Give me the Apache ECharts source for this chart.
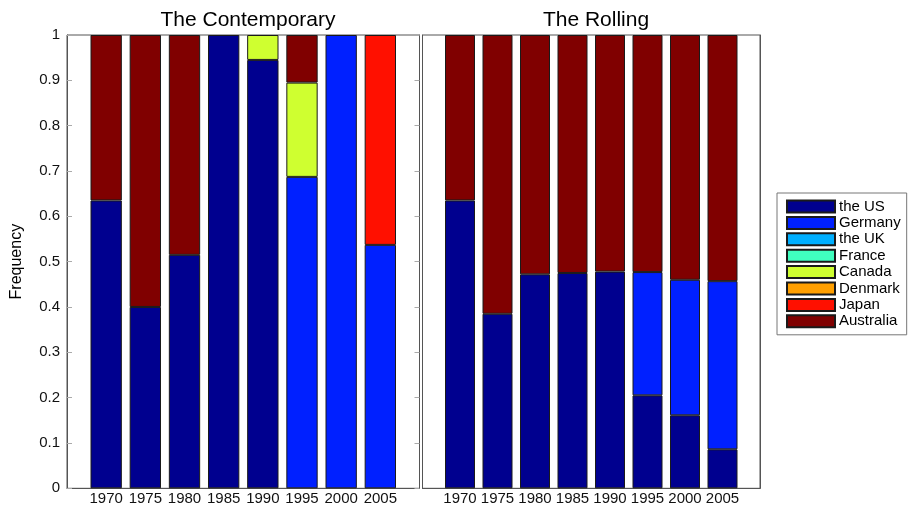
<!DOCTYPE html>
<html>
<head>
<meta charset="utf-8">
<script src="https://cdn.jsdelivr.net/npm/echarts@6/dist/echarts.min.js"></script>
<style>
html,body{margin:0;padding:0;background:#fff;}
#c{width:914px;height:509px;}
</style>
</head>
<body>
<div id="c"></div>
<script>
var years = ['1970', '1975', '1980', '1985', '1990', '1995', '2000', '2005'];
var countries = ['the US', 'Germany', 'the UK', 'France', 'Canada', 'Denmark', 'Japan', 'Australia'];
var panelTitles = ['The Contemporary', 'The Rolling'];

// The Contemporary
var usC        = [0.635, 0.400, 0.515, 1.000, 0.945, 0.000, 0.000, 0.000];
var germanyC   = [0.000, 0.000, 0.000, 0.000, 0.000, 0.687, 1.000, 0.537];
var ukC        = [0, 0, 0, 0, 0, 0, 0, 0];
var franceC    = [0, 0, 0, 0, 0, 0, 0, 0];
var canadaC    = [0.000, 0.000, 0.000, 0.000, 0.055, 0.208, 0.000, 0.000];
var denmarkC   = [0, 0, 0, 0, 0, 0, 0, 0];
var japanC     = [0.000, 0.000, 0.000, 0.000, 0.000, 0.000, 0.000, 0.463];
var australiaC = [0.365, 0.600, 0.485, 0.000, 0.000, 0.105, 0.000, 0.000];

// The Rolling
var usR        = [0.635, 0.385, 0.472, 0.475, 0.478, 0.205, 0.161, 0.086];
var germanyR   = [0.000, 0.000, 0.000, 0.000, 0.000, 0.272, 0.299, 0.371];
var ukR        = [0, 0, 0, 0, 0, 0, 0, 0];
var franceR    = [0, 0, 0, 0, 0, 0, 0, 0];
var canadaR    = [0, 0, 0, 0, 0, 0, 0, 0];
var denmarkR   = [0, 0, 0, 0, 0, 0, 0, 0];
var japanR     = [0, 0, 0, 0, 0, 0, 0, 0];
var australiaR = [0.365, 0.615, 0.528, 0.525, 0.522, 0.523, 0.540, 0.543];

var colors = ['#00008F', '#0020FF', '#00AFFF', '#40FFBF', '#CFFF30', '#FF9F00', '#FF1000', '#800000'];

var panels = [
  [usC, germanyC, ukC, franceC, canadaC, denmarkC, japanC, australiaC],
  [usR, germanyR, ukR, franceR, canadaR, denmarkR, japanR, australiaR]
];

var FONT = 'Liberation Sans, Arial, Helvetica, sans-serif';
// axis categories: an empty slot before and after the years gives the margin of the original axes
var axisCats = [''].concat(years, ['']);

var series = [];
panels.forEach(function (vals, p) {
  vals.forEach(function (arr, k) {
    series.push({
      type: 'bar',
      name: countries[k],
      xAxisIndex: p,
      yAxisIndex: p * 2,
      stack: 'panel' + p,
      barWidth: '80%',
      itemStyle: { color: colors[k], borderColor: '#1a1a1a', borderWidth: 1 },
      emphasis: { disabled: true },
      data: ['-'].concat(arr.map(function (v) { return v === 0 ? '-' : v; }), ['-'])
    });
  });
});

var grids = [
  { left: 67, top: 35, width: 352.5, height: 453.3, show: true, borderColor: '#555', borderWidth: 1, backgroundColor: '#fff' },
  { left: 422.5, top: 35, width: 337.5, height: 453.3, show: true, borderColor: '#555', borderWidth: 1, backgroundColor: '#fff' }
];

var xAxes = [0, 1].map(function (p) {
  return {
    type: 'category', gridIndex: p, data: axisCats, boundaryGap: false,
    axisLine: { show: true, lineStyle: { color: '#555' } },
    axisTick: { show: false },
    splitLine: { show: false },
    axisLabel: { color: '#111', fontFamily: FONT, fontSize: 15, margin: 3, interval: 0 }
  };
});

var yAxes = [];
[0, 1].forEach(function (p) {
  yAxes.push({
    type: 'value', gridIndex: p, min: 0, max: 1, interval: 0.1, position: 'left',
    name: p === 0 ? 'Frequency' : '',
    nameLocation: 'middle', nameRotate: 90, nameGap: 42,
    nameTextStyle: { fontFamily: FONT, fontSize: 16, color: '#000' },
    axisLine: { show: true, lineStyle: { color: '#555' } },
    axisTick: { show: p === 0, inside: true, length: 5, lineStyle: { color: '#aaa' } },
    splitLine: { show: false },
    axisLabel: {
      show: p === 0, color: '#111', fontFamily: FONT, fontSize: 15, margin: 7,
      formatter: function (v) { return String(Math.round(v * 10) / 10); }
    }
  });
  yAxes.push({
    type: 'value', gridIndex: p, min: 0, max: 1, interval: 0.1, position: 'right',
    axisLine: { show: true, lineStyle: { color: '#555' } },
    axisTick: { show: p === 0, inside: true, length: 5, lineStyle: { color: '#aaa' } },
    splitLine: { show: false },
    axisLabel: { show: false }
  });
});

var chart = echarts.init(document.getElementById('c'), null, { renderer: 'canvas' });
chart.setOption({
  backgroundColor: '#fff',
  animation: false,
  title: [
    { text: panelTitles[0], left: 243, top: 5, textAlign: 'center',
      textStyle: { fontFamily: FONT, fontSize: 21, fontWeight: 'normal', color: '#000' } },
    { text: panelTitles[1], left: 591, top: 5, textAlign: 'center',
      textStyle: { fontFamily: FONT, fontSize: 21, fontWeight: 'normal', color: '#000' } }
  ],
  legend: {
    data: countries,
    orient: 'vertical',
    left: 777, top: 193,
    itemWidth: 48, itemHeight: 12, itemGap: 1.4,
    padding: [6, 6, 6, 9],
    borderColor: '#777', borderWidth: 1, backgroundColor: '#fff',
    icon: 'rect',
    selectedMode: false,
    textStyle: { fontFamily: FONT, fontSize: 15, color: '#000', padding: [0, 0, 0, -1] }
  },
  grid: grids,
  xAxis: xAxes,
  yAxis: yAxes,
  series: series
});
</script>
</body>
</html>
